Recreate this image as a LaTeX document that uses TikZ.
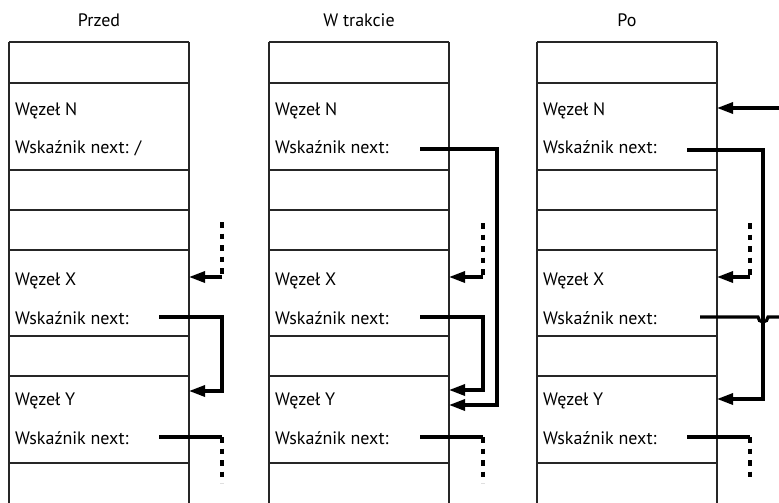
\documentclass[tikz,border=0pt]{standalone}
\usepackage{fontspec}
\setmainfont{PT Sans}
\usetikzlibrary{arrows.meta}
\begin{document}
\begin{tikzpicture}[x=1pt,y=-1pt,
  cell/.style={draw=black!85, line width=1.3pt},
  lbl/.style={anchor=base west, inner sep=0pt, font=\fontsize{18}{22}\selectfont},
  ttl/.style={inner sep=0pt, font=\fontsize{18}{22}\selectfont},
  ptr/.style={line width=3.2pt},
  ptrarrow/.style={line width=3.2pt, -{Triangle[length=16pt,width=11pt]}},
  dots/.style={line width=3.2pt, dash pattern=on 5.5pt off 6pt}
]
\useasboundingbox (0,0) rectangle (779,503);
% titles
\node[ttl] (ta) at (99,20) {Przed};
\node[ttl] (tb) at (359,20) {W trakcie};
\node[ttl] (tc) at (627,20) {Po};
% grids
\foreach \L in {9,269,537}{
  \foreach \y in {42,83,170,210,250,336,376,463}{
    \draw[cell] (\L,\y) -- (\L+180,\y);
  }
  \draw[cell] (\L,42) -- (\L,503);
  \draw[cell] (\L+180,42) -- (\L+180,503);
}
% labels
\foreach \L/\c in {9/a,269/b,537/c}{
  \node[lbl] (\c N) at (\L+6,115) {Węzeł N};
  \node[lbl] (\c X) at (\L+6,285) {Węzeł X};
  \node[lbl] (\c Xp) at (\L+6,324) {Wskaźnik next:};
  \node[lbl] (\c Y) at (\L+6,405.5) {Węzeł Y};
  \node[lbl] (\c Yp) at (\L+6,444) {Wskaźnik next:};
}
\node[lbl] (aNp) at (15,153.5) {Wskaźnik next: /};
\node[lbl] (bNp) at (275,153.5) {Wskaźnik next:};
\node[lbl] (cNp) at (543,153.5) {Wskaźnik next:};

% ---- column a ----
\coordinate (aDtop) at (222,222);
\coordinate (aDbot) at (222,277);
\coordinate (aXin) at (189,277);
\draw[dots] (aDtop) -- (aDbot);
\draw[ptrarrow] (aDbot) -- (aXin);
\coordinate (aXs) at (159,317);
\coordinate (aYin) at (189,391);
\draw[ptrarrow] (aXs) -- (222,317) -- (222,391) -- (aYin);
\coordinate (aYs) at (159,437);
\coordinate (aYc) at (222,437);
\coordinate (aYe) at (222,483);
\draw[ptr] (aYs) -- (aYc);
\draw[dots] (aYc) -- (aYe);

% ---- column b ----
\coordinate (bNs) at (420,149);
\coordinate (bYin2) at (449,405);
\draw[ptrarrow] (bNs) -- (497,149) -- (497,405) -- (bYin2);
\coordinate (bDtop) at (483,223);
\coordinate (bDbot) at (483,277);
\coordinate (bXin) at (449,277);
\draw[dots] (bDtop) -- (bDbot);
\draw[ptrarrow] (bDbot) -- (bXin);
\coordinate (bXs) at (420,317);
\coordinate (bYin) at (449,390);
\draw[ptrarrow] (bXs) -- (483,317) -- (483,390) -- (bYin);
\coordinate (bYs) at (420,437);
\coordinate (bYc) at (483,437);
\coordinate (bYe) at (483,483);
\draw[ptr] (bYs) -- (bYc);
\draw[dots] (bYc) -- (bYe);

% ---- column c ----
\coordinate (cIn) at (779,108);
\coordinate (cNin) at (717,108);
\draw[ptrarrow] (cIn) -- (cNin);
\coordinate (cNs) at (687,150);
\coordinate (cYin) at (717,399);
\draw[ptrarrow] (cNs) -- (763,150) -- (763,399) -- (cYin);
\coordinate (cDtop) at (750,223);
\coordinate (cDbot) at (750,277);
\coordinate (cXin) at (717,277);
\draw[dots] (cDtop) -- (cDbot);
\draw[ptrarrow] (cDbot) -- (cXin);
\coordinate (cXs) at (700,317);
\coordinate (cXe) at (779,317);
\draw[ptr] (cXs) -- (758,317) arc[start angle=180, end angle=0, radius=5] -- (cXe);
\coordinate (cYs) at (687,437);
\coordinate (cYc) at (750,437);
\coordinate (cYe) at (750,482);
\draw[ptr] (cYs) -- (cYc);
\draw[dots] (cYc) -- (cYe);
\end{tikzpicture}
\end{document}
